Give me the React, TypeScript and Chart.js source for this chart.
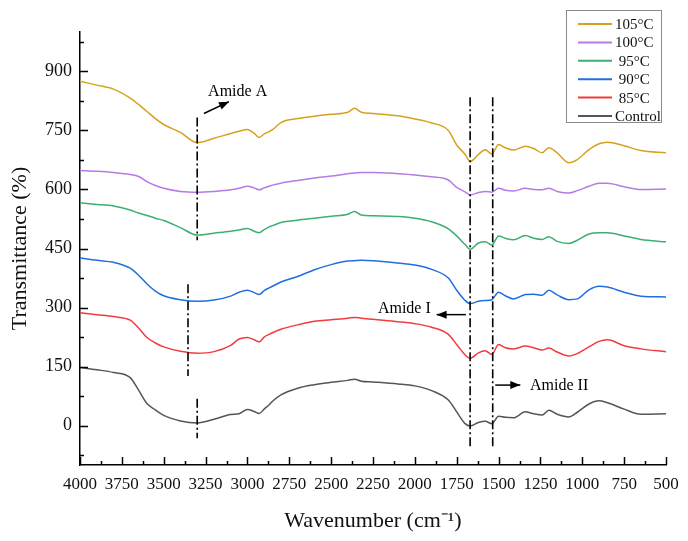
import { useEffect, useRef } from 'react';
import Chart from 'chart.js/auto';

const FONT = "'Liberation Serif', 'Times New Roman', serif";

// wavenumber grid (cm-1), shared by every spectrum
const wavenumbers = [
    4000, 3900, 3800, 3700, 3650, 3600, 3550, 3500, 3400, 3300, 3200, 3100, 3050, 3000, 2960, 2930, 2900,
    2870, 2850, 2800, 2700, 2600, 2500, 2400, 2360, 2320, 2250, 2100, 2000, 1900, 1800, 1750, 1700, 1670,
    1620, 1580, 1540, 1500, 1460, 1410, 1340, 1290, 1240, 1200, 1150, 1080, 1030, 960, 900, 850, 750, 650, 500,
];

const t105 = [
    875, 865, 855, 832, 816, 798, 780, 765, 745, 719, 730, 742, 748, 752, 743, 732, 741,
    747, 752, 770, 780, 786, 791, 796, 806, 796, 793, 787, 779, 769, 750, 713, 689, 671,
    689, 701, 690, 714, 706, 700, 710, 704, 693, 706, 693, 668, 676, 701, 716, 720, 711, 699, 693,
];
const t100 = [
    648, 646, 643, 638, 633, 620, 610, 603, 595, 593, 595, 599, 603, 608, 604, 599, 604,
    608, 611, 616, 623, 629, 634, 640, 642, 643, 643, 640, 637, 632, 624, 605, 594, 586,
    592, 595, 593, 603, 598, 596, 603, 600, 599, 603, 595, 591, 597, 608, 616, 616, 607, 600, 601,
];
const t95 = [
    566, 562, 558, 548, 540, 534, 527, 521, 503, 484, 489, 494, 497, 501, 494, 490, 498,
    505, 508, 516, 522, 527, 532, 537, 544, 535, 533, 531, 527, 518, 500, 482, 460, 448,
    464, 467, 459, 482, 476, 472, 483, 476, 473, 480, 468, 463, 471, 487, 490, 490, 482, 473, 467,
];
const t90 = [
    426, 420, 415, 400, 382, 360, 342, 330, 320, 316, 319, 329, 339, 344, 338, 333, 343,
    350, 354, 365, 379, 396, 409, 418, 419, 420, 419, 413, 408, 397, 375, 344, 318, 310,
    316, 318, 320, 339, 330, 322, 333, 334, 331, 344, 332, 320, 322, 345, 354, 352, 339, 329, 327,
];
const t85 = [
    287, 282, 277, 268, 248, 224, 210, 200, 189, 184, 188, 204, 220, 224, 218, 213, 225,
    232, 236, 245, 256, 265, 269, 273, 275, 273, 270, 264, 259, 250, 232, 206, 180, 171,
    185, 190, 181, 206, 198, 195, 202, 198, 192, 197, 187, 177, 183, 200, 214, 218, 203, 195, 188,
];
const control = [
    148, 142, 135, 122, 90, 56, 40, 26, 12, 7, 16, 28, 30, 41, 36, 31, 42,
    53, 62, 78, 95, 104, 110, 115, 118, 113, 111, 106, 101, 89, 65, 35, 5, -1,
    8, 11, 5, 24, 21, 20, 35, 30, 27, 39, 29, 22, 34, 55, 63, 58, 42, 29, 30,
];

const seriesLabels = ['105°C', '100°C', '95°C', '90°C', '85°C', 'Control'];
const seriesValues = [t105, t100, t95, t90, t85, control];
const seriesColors = ['#D6A21E', '#B57BE6', '#3DAF6F', '#1F6FDE', '#F23B3F', '#555555'];

const yTicks = [0, 150, 300, 450, 600, 750, 900];

// dash-dot marker lines (x in cm-1, y range in % units)
const markerLines = [
    { x: 3300, from: 783, to: 471 },
    { x: 3355, from: 359, to: 126 },
    { x: 3300, from: 68, to: -32 },
    { x: 1670, from: 834, to: -57 },
    { x: 1535, from: 834, to: -57 },
];

const arrows = [
    { label: 'Amide A', x0: 3260, y0: 793, x1: 3110, y1: 823, tx: 3235, ty: 847, align: 'left' },
    { label: 'Amide I', x0: 1695, y0: 282, x1: 1870, y1: 282, tx: 1905, ty: 298, align: 'right' },
    { label: 'Amide II', x0: 1520, y0: 103, x1: 1370, y1: 103, tx: 1312, ty: 101, align: 'left' },
];

const drawArrowHead = (ctx: CanvasRenderingContext2D, x0: number, y0: number, x1: number, y1: number) => {
    const a = Math.atan2(y1 - y0, x1 - x0);
    const len = 10;
    const w = 4;
    ctx.beginPath();
    ctx.moveTo(x1, y1);
    ctx.lineTo(x1 - len * Math.cos(a) + w * Math.sin(a), y1 - len * Math.sin(a) - w * Math.cos(a));
    ctx.lineTo(x1 - len * Math.cos(a) - w * Math.sin(a), y1 - len * Math.sin(a) + w * Math.cos(a));
    ctx.closePath();
    ctx.fill();
};

const decorations = {
    id: 'decorations',
    afterDraw: (chart: any) => {
        const { ctx, chartArea, scales } = chart;
        const xs = scales.x;
        const ys = scales.y;
        ctx.save();

        // inward ticks, major and minor
        ctx.strokeStyle = '#000';
        ctx.lineWidth = 1.5;
        for (let v = 500; v <= 4000; v += 125) {
            const px = Math.round(xs.getPixelForValue(v)) + 0.5;
            const len = v % 250 === 0 ? 8 : 4;
            ctx.beginPath();
            ctx.moveTo(px, chartArea.bottom);
            ctx.lineTo(px, chartArea.bottom - len);
            ctx.stroke();
        }
        for (let v = -75; v <= 975; v += 75) {
            const py = Math.round(ys.getPixelForValue(v)) + 0.5;
            const len = v % 150 === 0 ? 8 : 4;
            ctx.beginPath();
            ctx.moveTo(chartArea.left, py);
            ctx.lineTo(chartArea.left + len, py);
            ctx.stroke();
        }

        // dash-dot markers
        ctx.setLineDash([9, 3, 2, 3]);
        ctx.lineWidth = 1.6;
        markerLines.forEach((m) => {
            const px = xs.getPixelForValue(m.x);
            ctx.beginPath();
            ctx.moveTo(px, ys.getPixelForValue(m.from));
            ctx.lineTo(px, ys.getPixelForValue(m.to));
            ctx.stroke();
        });
        ctx.setLineDash([]);

        // arrows with labels
        ctx.fillStyle = '#000';
        ctx.font = `16px ${FONT}`;
        ctx.textBaseline = 'middle';
        arrows.forEach((a) => {
            const x0 = xs.getPixelForValue(a.x0);
            const y0 = ys.getPixelForValue(a.y0);
            const x1 = xs.getPixelForValue(a.x1);
            const y1 = ys.getPixelForValue(a.y1);
            ctx.lineWidth = 1.5;
            ctx.beginPath();
            ctx.moveTo(x0, y0);
            ctx.lineTo(x1, y1);
            ctx.stroke();
            drawArrowHead(ctx, x0, y0, x1, y1);
            ctx.textAlign = a.align;
            ctx.fillText(a.label, xs.getPixelForValue(a.tx), ys.getPixelForValue(a.ty));
        });

        // legend box
        const bx = 566;
        const by = 10;
        ctx.fillStyle = '#fff';
        ctx.fillRect(bx, by, 95, 112);
        ctx.strokeStyle = '#8a8a8a';
        ctx.lineWidth = 1;
        ctx.strokeRect(bx + 0.5, by + 0.5, 95, 112);
        ctx.font = `15px ${FONT}`;
        ctx.textAlign = 'left';
        chart.data.datasets.forEach((ds: any, i: number) => {
            const y = by + 14 + i * 18.4;
            ctx.strokeStyle = ds.borderColor;
            ctx.lineWidth = 2;
            ctx.beginPath();
            ctx.moveTo(bx + 12, y);
            ctx.lineTo(bx + 46, y);
            ctx.stroke();
            ctx.fillStyle = '#111';
            const label = ds.label.length === 4 ? ' ' + ds.label : ds.label;
            ctx.fillText(label, bx + 49, y + 1);
        });

        ctx.restore();
    },
};

export default function App() {
    const chartRef = useRef<HTMLCanvasElement>(null);

    useEffect(() => {
        let chart: Chart | undefined;
        const ctx = chartRef.current?.getContext('2d');
        if (ctx) {
            chart = new Chart(ctx, {
                type: 'line',
                data: {
                    datasets: seriesLabels.map((label, i) => ({
                        label,
                        data: wavenumbers.map((w, j) => ({ x: w, y: seriesValues[i][j] })),
                        borderColor: seriesColors[i],
                        backgroundColor: seriesColors[i],
                        borderWidth: 1.5,
                        pointRadius: 0,
                        cubicInterpolationMode: 'monotone',
                    })),
                },
                options: {
                    animation: false,
                    responsive: true,
                    maintainAspectRatio: false,
                    layout: { padding: { top: 32, right: 22, left: 0, bottom: 0 } },
                    plugins: {
                        legend: { display: false },
                        tooltip: { enabled: false },
                    },
                    scales: {
                        x: {
                            type: 'linear',
                            reverse: true,
                            min: 500,
                            max: 4000,
                            grid: { display: false, drawTicks: false },
                            border: { display: true, color: '#000', width: 1.5 },
                            ticks: {
                                stepSize: 250,
                                autoSkip: false,
                                maxRotation: 0,
                                padding: 9,
                                color: '#111',
                                font: { family: FONT, size: 17 },
                                callback: (value: any) => `${Number(value)}`,
                            },
                            title: {
                                display: true,
                                text: 'Wavenumber (cm⁻¹)',
                                color: '#111',
                                font: { family: FONT, size: 22, lineHeight: 1 },
                                padding: { top: 0, bottom: 9 },
                            },
                            afterFit: (scale: any) => {
                                scale.height = 76;
                            },
                        },
                        y: {
                            type: 'linear',
                            min: -100,
                            max: 1000,
                            grid: { display: false, drawTicks: false },
                            border: { display: true, color: '#000', width: 1.5 },
                            afterBuildTicks: (scale: any) => {
                                scale.ticks = yTicks.map((v) => ({ value: v }));
                            },
                            ticks: {
                                padding: 8,
                                color: '#111',
                                font: { family: FONT, size: 18 },
                                callback: (value: any) => `${Number(value)}`,
                            },
                            title: {
                                display: true,
                                text: 'Transmittance (%)',
                                color: '#111',
                                font: { family: FONT, size: 22 },
                                padding: { top: 7, bottom: 0 },
                            },
                            afterFit: (scale: any) => {
                                scale.width = 80;
                            },
                        },
                    },
                },
                plugins: [decorations],
            });
        }
        return () => {
            if (chart) {
                chart.destroy();
            }
        };
    }, []);

    return (
        <div style={{ position: 'fixed', left: 0, top: 0, width: 688, height: 541, background: '#fff' }}>
            <canvas ref={chartRef} />
        </div>
    );
}
